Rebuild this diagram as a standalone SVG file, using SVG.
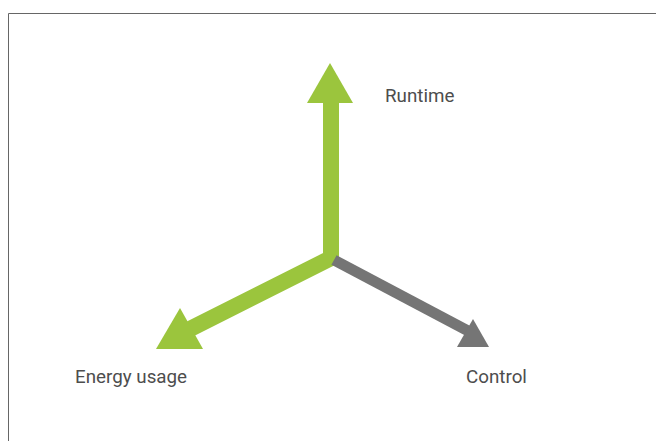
<svg xmlns="http://www.w3.org/2000/svg" width="656" height="441" viewBox="0 0 656 441">
<style>
.lbl{font-family:Roboto,"Liberation Sans",sans-serif;font-size:18.8px;fill:#4d4d4d}
.g{fill:#9bc53d}
.k{fill:#757575}
</style>
<rect width="656" height="441" fill="#fff"/>
<path d="M8.5,441 V13.5 H656" fill="none" stroke="#666" stroke-width="1"/>
<g id="connectors">
<polyline points="331,100 331,258 186,331" fill="none" stroke="#9bc53d" stroke-width="16" stroke-linejoin="round"/>
<line x1="334" y1="260" x2="472" y2="333" stroke="#757575" stroke-width="11"/>
<polygon class="g" points="330,63 353,103 307,103"/>
<polygon class="g" points="180,308 203,349 156,349"/>
<polygon class="k" points="473,319 489,347 457,347"/>
</g>
<g id="runtime"><text class="lbl" x="385" y="102">Runtime</text></g>
<g id="energy"><text class="lbl" x="75" y="383">Energy usage</text></g>
<g id="control"><text class="lbl" x="466" y="383">Control</text></g>
</svg>
